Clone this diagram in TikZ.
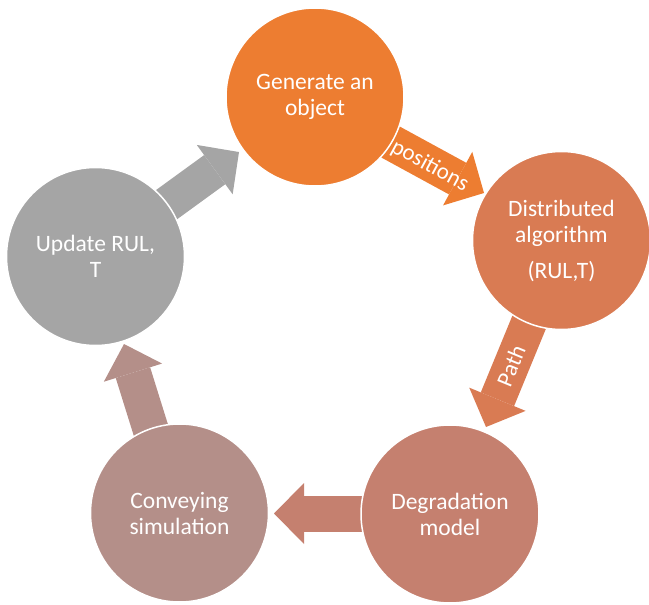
\documentclass[tikz,border=0pt]{standalone}
\usepackage{fontspec}
\setmainfont{Carlito}
\usetikzlibrary{arrows.meta}
\definecolor{cA}{HTML}{ED7D31}
\definecolor{cB}{HTML}{D97B53}
\definecolor{cC}{HTML}{C5806F}
\definecolor{cD}{HTML}{B48F89}
\definecolor{cE}{HTML}{A5A5A5}
\tikzset{
  circ/.style={circle, draw=white, line width=1.5pt, minimum size=178pt, inner sep=0pt,
    text=white, align=center, font=\fontsize{23.5pt}{26pt}\selectfont},
  blockarrow/.style={line width=36pt, line cap=butt,
    -{Triangle[length=30pt,width=61pt,line width=0pt]}},
  arrlabel/.style={text=white, font=\fontsize{23pt}{26pt}\selectfont, inner sep=0pt}
}
\begin{document}
\begin{tikzpicture}[x=1pt,y=-1pt]
\useasboundingbox (0,0) rectangle (649,605);
% arrow coordinates
\coordinate (t12) at (381.7,137.2);
\coordinate (h12) at (484,193);
\coordinate (t23) at (531.8,315.8);
\coordinate (h23) at (486,427);
\coordinate (t34) at (372,513.5);
\coordinate (h34) at (274,513.5);
\coordinate (t45) at (153.5,438.5);
\coordinate (h45) at (124,344);
\coordinate (t51) at (161.4,208.4);
\coordinate (h51) at (239,152);
% arrows
\draw[blockarrow, draw=cA, fill=cA] (t12) -- (h12);
\draw[blockarrow, draw=cB, fill=cB] (t23) -- (h23);
\draw[blockarrow, draw=cC, fill=cC] (t34) -- (h34);
\draw[blockarrow, draw=cD, fill=cD] (t45) -- (h45);
\draw[blockarrow, draw=cE, fill=cE] (t51) -- (h51);
% circles
\node[circ, fill=cA] (gen) at (315,97) {Generate an\\object};
\node[circ, fill=cB] (dist) at (561.5,240.5) {Distributed\\algorithm\\[10pt](RUL,T)};
\node[circ, fill=cC] (deg) at (450,514) {Degradation\\model};
\node[circ, fill=cD] (conv) at (179.5,513) {Conveying\\simulation};
\node[circ, fill=cE] (upd) at (95.5,256.5) {Update RUL,\\T};
% labels
\node[arrlabel, rotate=-28.6] (lpos) at (430,166) {positions};
\node[arrlabel, rotate=67.6] (lpath) at (511,366) {Path};
\end{tikzpicture}
\end{document}
